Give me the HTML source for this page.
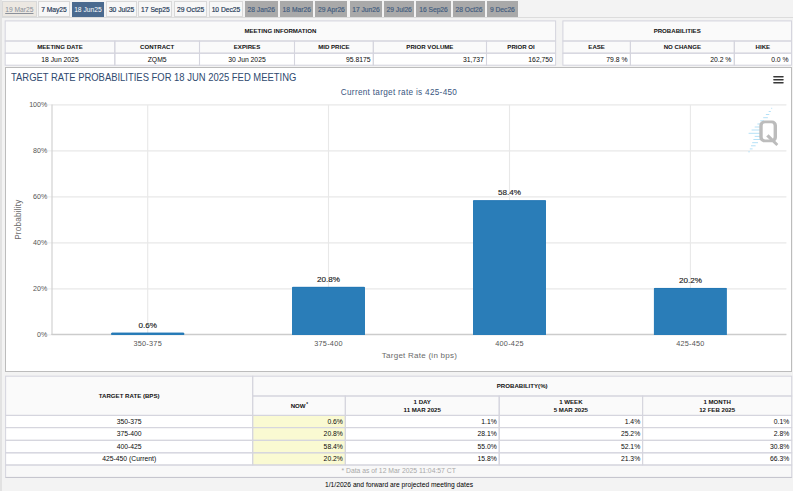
<!DOCTYPE html>
<html><head><meta charset="utf-8"><title>FedWatch</title>
<style>
html,body{margin:0;padding:0;}
body{width:793px;height:491px;overflow:hidden;background:#e2e2e2;font-family:"Liberation Sans",sans-serif;position:relative;}
.a{position:absolute;}
.tab{position:absolute;top:1.3px;height:15.6px;box-sizing:border-box;font-size:6.7px;line-height:15.1px;text-align:center;white-space:nowrap;border:0.8px solid #d9d9d9;}
.tab.first{background:#ece8e2;color:#8a8f99;text-decoration:underline;}
.tab.norm{background:#f7f7f7;color:#263a57;-webkit-text-stroke:0.18px #263a57;}
.tab.sel{background:#4a6a8f;color:#fff;border-color:#4a6a8f;top:1.8px;height:15.1px;line-height:14.1px;}
.tab.gray{background:#a9a9a9;color:#3f5b7e;border-color:#a9a9a9;-webkit-text-stroke:0.15px #3f5b7e;}
.cell{position:absolute;box-sizing:border-box;white-space:nowrap;overflow:hidden;}
.hd{background:#fafafa;font-weight:bold;font-size:6.1px;text-align:center;color:#111;}
.dt{background:#fff;font-size:6.8px;color:#0c0c0c;}
.c{text-align:center;}
.r{text-align:right;}
</style></head><body>

<div class="a" style="left:1.9px;top:0;width:795px;height:491px;background:#f3f3f3"></div><div class="a" style="left:1.9px;top:16.9px;width:795px;height:0.7px;background:#dcdcdc"></div>
<div class="tab first" style="left:1.9px;width:34.9px">19 Mar25</div>
<div class="tab norm" style="left:38.3px;width:31.4px">7 May25</div>
<div class="tab sel" style="left:71.6px;width:32.6px">18 Jun25</div>
<div class="tab norm" style="left:106.4px;width:30.3px">30 Jul25</div>
<div class="tab norm" style="left:138.4px;width:34.1px">17 Sep25</div>
<div class="tab norm" style="left:174.2px;width:32.9px">29 Oct25</div>
<div class="tab norm" style="left:209.0px;width:33.9px">10 Dec25</div>
<div class="tab gray" style="left:244.7px;width:33.2px">28 Jan26</div>
<div class="tab gray" style="left:280.1px;width:33.3px">18 Mar26</div>
<div class="tab gray" style="left:315.4px;width:32.1px">29 Apr26</div>
<div class="tab gray" style="left:349.9px;width:32.1px">17 Jun26</div>
<div class="tab gray" style="left:384.2px;width:30.0px">29 Jul26</div>
<div class="tab gray" style="left:416.3px;width:34.4px">16 Sep26</div>
<div class="tab gray" style="left:452.7px;width:32.6px">28 Oct26</div>
<div class="tab gray" style="left:487.2px;width:30.4px">9 Dec26</div>
<div class="cell hd" style="left:5.2px;top:20.9px;width:550.4px;height:20.1px;line-height:20.1px;">MEETING INFORMATION</div>
<div class="cell hd" style="left:5.2px;top:41px;width:109.6px;height:12.2px;line-height:12.2px;">MEETING DATE</div>
<div class="cell dt c" style="left:5.2px;top:53.2px;width:109.6px;height:12.0px;line-height:13.2px;">18 Jun 2025</div>
<div class="cell hd" style="left:114.8px;top:41px;width:84.7px;height:12.2px;line-height:12.2px;">CONTRACT</div>
<div class="cell dt c" style="left:114.8px;top:53.2px;width:84.7px;height:12.0px;line-height:13.2px;">ZQM5</div>
<div class="cell hd" style="left:199.5px;top:41px;width:95.0px;height:12.2px;line-height:12.2px;">EXPIRES</div>
<div class="cell dt c" style="left:199.5px;top:53.2px;width:95.0px;height:12.0px;line-height:13.2px;">30 Jun 2025</div>
<div class="cell hd" style="left:294.5px;top:41px;width:78.8px;height:12.2px;line-height:12.2px;">MID PRICE</div>
<div class="cell dt r" style="left:294.5px;top:53.2px;width:78.8px;height:12.0px;line-height:13.2px;padding-right:2.7px;">95.8175</div>
<div class="cell hd" style="left:373.3px;top:41px;width:113.2px;height:12.2px;line-height:12.2px;">PRIOR VOLUME</div>
<div class="cell dt r" style="left:373.3px;top:53.2px;width:113.2px;height:12.0px;line-height:13.2px;padding-right:2.7px;">31,737</div>
<div class="cell hd" style="left:486.5px;top:41px;width:69.1px;height:12.2px;line-height:12.2px;">PRIOR OI</div>
<div class="cell dt r" style="left:486.5px;top:53.2px;width:69.1px;height:12.0px;line-height:13.2px;padding-right:2.7px;">162,750</div>
<div class="cell hd" style="left:562.9px;top:20.9px;width:228.6px;height:20.1px;line-height:20.1px;">PROBABILITIES</div>
<div class="cell hd" style="left:562.9px;top:41px;width:67.5px;height:12.2px;line-height:12.2px;">EASE</div>
<div class="cell dt r" style="left:562.9px;top:53.2px;width:67.5px;height:12.0px;line-height:13.2px;padding-right:2.9px;">79.8 %</div>
<div class="cell hd" style="left:630.4px;top:41px;width:103.9px;height:12.2px;line-height:12.2px;">NO CHANGE</div>
<div class="cell dt r" style="left:630.4px;top:53.2px;width:103.9px;height:12.0px;line-height:13.2px;padding-right:2.9px;">20.2 %</div>
<div class="cell hd" style="left:734.3px;top:41px;width:57.2px;height:12.2px;line-height:12.2px;">HIKE</div>
<div class="cell dt r" style="left:734.3px;top:53.2px;width:57.2px;height:12.0px;line-height:13.2px;padding-right:2.9px;">0.0 %</div>
<div class="a" style="left:4.9px;top:67.05px;width:787.2px;height:304.8px;border:0.9px solid #bcbcbc;background:#fff;box-sizing:border-box"></div>
<div class="a" id="title" style="left:11.3px;top:70.4px;font-size:10.6px;line-height:14px;color:#2f4a6f;white-space:nowrap;transform-origin:0 0;transform:scaleX(0.891)">TARGET RATE PROBABILITIES FOR 18 JUN 2025 FED MEETING</div>
<div class="a" id="sub" style="left:299px;width:200px;text-align:center;top:88px;font-size:8.2px;line-height:10px;color:#3a5580;white-space:nowrap;letter-spacing:0.3px">Current target rate is 425-450</div>
<div class="cell hd" style="left:5.6px;top:376.2px;width:247.1px;height:39.2px;line-height:39.2px;">TARGET RATE (BPS)</div>
<div class="cell hd" style="left:252.7px;top:376.2px;width:539.0px;height:19.8px;line-height:19.8px;">PROBABILITY(%)</div>
<div class="cell hd" style="left:252.7px;top:396px;width:92.6px;height:19.4px;line-height:19.4px;">NOW<span style="font-size:4.5px;position:relative;top:-2.2px;left:0.8px">*</span></div>
<div class="cell hd" style="left:345.3px;top:396px;width:153.9px;height:19.4px;line-height:19.4px;line-height:8.2px;padding-top:1.9px;">1 DAY<br>11 MAR 2025</div>
<div class="cell hd" style="left:499.2px;top:396px;width:143.4px;height:19.4px;line-height:19.4px;line-height:8.2px;padding-top:1.9px;">1 WEEK<br>5 MAR 2025</div>
<div class="cell hd" style="left:642.6px;top:396px;width:149.1px;height:19.4px;line-height:19.4px;line-height:8.2px;padding-top:1.9px;">1 MONTH<br>12 FEB 2025</div>
<div class="cell dt c" style="left:5.6px;top:415.4px;width:247.1px;height:12.2px;line-height:13.6px;">350-375</div>
<div class="cell dt r" style="left:252.7px;top:415.4px;width:92.6px;height:12.2px;line-height:13.6px;padding-right:2.4px;background:#fafad2;">0.6%</div>
<div class="cell dt r" style="left:345.3px;top:415.4px;width:153.9px;height:12.2px;line-height:13.6px;padding-right:2.4px;">1.1%</div>
<div class="cell dt r" style="left:499.2px;top:415.4px;width:143.4px;height:12.2px;line-height:13.6px;padding-right:2.4px;">1.4%</div>
<div class="cell dt r" style="left:642.6px;top:415.4px;width:149.1px;height:12.2px;line-height:13.6px;padding-right:2.4px;">0.1%</div>
<div class="cell dt c" style="left:5.6px;top:427.6px;width:247.1px;height:12.7px;line-height:11.9px;">375-400</div>
<div class="cell dt r" style="left:252.7px;top:427.6px;width:92.6px;height:12.7px;line-height:11.9px;padding-right:2.4px;background:#fafad2;">20.8%</div>
<div class="cell dt r" style="left:345.3px;top:427.6px;width:153.9px;height:12.7px;line-height:11.9px;padding-right:2.4px;">28.1%</div>
<div class="cell dt r" style="left:499.2px;top:427.6px;width:143.4px;height:12.7px;line-height:11.9px;padding-right:2.4px;">25.2%</div>
<div class="cell dt r" style="left:642.6px;top:427.6px;width:149.1px;height:12.7px;line-height:11.9px;padding-right:2.4px;">2.8%</div>
<div class="cell dt c" style="left:5.6px;top:440.3px;width:247.1px;height:12.5px;line-height:13.9px;">400-425</div>
<div class="cell dt r" style="left:252.7px;top:440.3px;width:92.6px;height:12.5px;line-height:13.9px;padding-right:2.4px;background:#fafad2;">58.4%</div>
<div class="cell dt r" style="left:345.3px;top:440.3px;width:153.9px;height:12.5px;line-height:13.9px;padding-right:2.4px;">55.0%</div>
<div class="cell dt r" style="left:499.2px;top:440.3px;width:143.4px;height:12.5px;line-height:13.9px;padding-right:2.4px;">52.1%</div>
<div class="cell dt r" style="left:642.6px;top:440.3px;width:149.1px;height:12.5px;line-height:13.9px;padding-right:2.4px;">30.8%</div>
<div class="cell dt c" style="left:5.6px;top:452.8px;width:247.1px;height:12.2px;line-height:11.8px;">425-450 (Current)</div>
<div class="cell dt r" style="left:252.7px;top:452.8px;width:92.6px;height:12.2px;line-height:11.8px;padding-right:2.4px;background:#fafad2;">20.2%</div>
<div class="cell dt r" style="left:345.3px;top:452.8px;width:153.9px;height:12.2px;line-height:11.8px;padding-right:2.4px;">15.8%</div>
<div class="cell dt r" style="left:499.2px;top:452.8px;width:143.4px;height:12.2px;line-height:11.8px;padding-right:2.4px;">21.3%</div>
<div class="cell dt r" style="left:642.6px;top:452.8px;width:149.1px;height:12.2px;line-height:11.8px;padding-right:2.4px;">66.3%</div>
<div class="cell dt c" style="left:5.6px;top:465px;width:786.1px;height:12.4px;line-height:11.8px;background:#f8f8f8;color:#a8a8a8;">* Data as of 12 Mar 2025 11:04:57 CT</div>
<div class="a" style="left:199px;width:400px;text-align:center;top:480px;font-size:6.7px;line-height:9px;color:#000;white-space:nowrap">1/1/2026 and forward are projected meeting dates</div>
<svg class="a" style="left:0;top:0" width="793" height="491" viewBox="0 0 793 491" font-family="Liberation Sans, sans-serif">
<line x1="47.6" x2="52" y1="104.9" y2="104.9" stroke="#ececec" stroke-width="1"/>
<line x1="52" x2="786.4" y1="104.9" y2="104.9" stroke="#e8e8e8" stroke-width="1.1"/>
<line x1="47.6" x2="52" y1="150.9" y2="150.9" stroke="#ececec" stroke-width="1"/>
<line x1="52" x2="786.4" y1="150.9" y2="150.9" stroke="#e8e8e8" stroke-width="1.1"/>
<line x1="47.6" x2="52" y1="196.9" y2="196.9" stroke="#ececec" stroke-width="1"/>
<line x1="52" x2="786.4" y1="196.9" y2="196.9" stroke="#e8e8e8" stroke-width="1.1"/>
<line x1="47.6" x2="52" y1="242.9" y2="242.9" stroke="#ececec" stroke-width="1"/>
<line x1="52" x2="786.4" y1="242.9" y2="242.9" stroke="#e8e8e8" stroke-width="1.1"/>
<line x1="47.6" x2="52" y1="288.9" y2="288.9" stroke="#ececec" stroke-width="1"/>
<line x1="52" x2="786.4" y1="288.9" y2="288.9" stroke="#e8e8e8" stroke-width="1.1"/>
<line x1="47.6" x2="52" y1="334.9" y2="334.9" stroke="#ececec" stroke-width="1"/>
<line x1="52" x2="786.4" y1="334.9" y2="334.9" stroke="#e8e8e8" stroke-width="1.1"/>
<line x1="147.7" x2="147.7" y1="104.9" y2="334.4" stroke="#e8e8e8" stroke-width="1.1"/>
<line x1="328.5" x2="328.5" y1="104.9" y2="334.4" stroke="#e8e8e8" stroke-width="1.1"/>
<line x1="509.5" x2="509.5" y1="104.9" y2="334.4" stroke="#e8e8e8" stroke-width="1.1"/>
<line x1="690.4" x2="690.4" y1="104.9" y2="334.4" stroke="#e8e8e8" stroke-width="1.1"/>
<line x1="52" x2="52" y1="104.4" y2="334.9" stroke="#d2d2d2" stroke-width="1.2"/>
<line x1="51.4" x2="786.4" y1="334.4" y2="334.4" stroke="#cccccc" stroke-width="1.1"/>
<path d="M111.2 334.9V333.6q0 -0.8 0.8 -0.8H183.4q0.8 0 0.8 0.8V334.9Z" fill="#2a7db8"/>
<path d="M111.5 333.7q0 -0.6 0.6 -0.6H183.3q0.6 0 0.6 0.6" fill="none" stroke="#1f72b2" stroke-width="0.6"/>
<path d="M292.0 334.9V287.7q0 -0.8 0.8 -0.8H364.2q0.8 0 0.8 0.8V334.9Z" fill="#2a7db8"/>
<path d="M292.3 287.8q0 -0.6 0.6 -0.6H364.1q0.6 0 0.6 0.6" fill="none" stroke="#1f72b2" stroke-width="0.6"/>
<path d="M473.0 334.9V201.1q0 -0.8 0.8 -0.8H545.2q0.8 0 0.8 0.8V334.9Z" fill="#2a7db8"/>
<path d="M473.3 201.2q0 -0.6 0.6 -0.6H545.1q0.6 0 0.6 0.6" fill="none" stroke="#1f72b2" stroke-width="0.6"/>
<path d="M653.9 334.9V288.9q0 -0.8 0.8 -0.8H726.1q0.8 0 0.8 0.8V334.9Z" fill="#2a7db8"/>
<path d="M654.2 289.0q0 -0.6 0.6 -0.6H726.0q0.6 0 0.6 0.6" fill="none" stroke="#1f72b2" stroke-width="0.6"/>
<text x="47.3" y="107.3" font-size="7.1" fill="#555" text-anchor="end">100%</text>
<text x="47.3" y="153.3" font-size="7.1" fill="#555" text-anchor="end">80%</text>
<text x="47.3" y="199.3" font-size="7.1" fill="#555" text-anchor="end">60%</text>
<text x="47.3" y="245.3" font-size="7.1" fill="#555" text-anchor="end">40%</text>
<text x="47.3" y="291.3" font-size="7.1" fill="#555" text-anchor="end">20%</text>
<text x="47.3" y="337.3" font-size="7.1" fill="#555" text-anchor="end">0%</text>
<text x="147.7" y="327.7" font-size="8.1" fill="#1c1c1c" stroke="#1c1c1c" stroke-width="0.15" text-anchor="middle">0.6%</text>
<text x="147.7" y="346" font-size="7.3" letter-spacing="0.25" fill="#555" text-anchor="middle">350-375</text>
<text x="328.5" y="281.8" font-size="8.1" fill="#1c1c1c" stroke="#1c1c1c" stroke-width="0.15" text-anchor="middle">20.8%</text>
<text x="328.5" y="346" font-size="7.3" letter-spacing="0.25" fill="#555" text-anchor="middle">375-400</text>
<text x="509.5" y="195.2" font-size="8.1" fill="#1c1c1c" stroke="#1c1c1c" stroke-width="0.15" text-anchor="middle">58.4%</text>
<text x="509.5" y="346" font-size="7.3" letter-spacing="0.25" fill="#555" text-anchor="middle">400-425</text>
<text x="690.4" y="283.0" font-size="8.1" fill="#1c1c1c" stroke="#1c1c1c" stroke-width="0.15" text-anchor="middle">20.2%</text>
<text x="690.4" y="346" font-size="7.3" letter-spacing="0.25" fill="#555" text-anchor="middle">425-450</text>
<text x="419.5" y="357.5" font-size="8" letter-spacing="0.25" fill="#6a6a6a" text-anchor="middle">Target Rate (in bps)</text>
<text transform="translate(20.6,219.6) rotate(-90)" font-size="8.2" letter-spacing="0.2" fill="#6a6a6a" text-anchor="middle">Probability</text>
<line x1="773.9" x2="783" y1="76.7" y2="76.7" stroke="#383838" stroke-width="1.5" stroke-linecap="round"/>
<line x1="773.9" x2="783" y1="79.7" y2="79.7" stroke="#383838" stroke-width="1.5" stroke-linecap="round"/>
<line x1="773.9" x2="783" y1="82.7" y2="82.7" stroke="#383838" stroke-width="1.5" stroke-linecap="round"/>
<line x1="771.2" x2="772.2" y1="108.3" y2="108.3" stroke="#addef6" stroke-width="0.9"/>
<line x1="768.7" x2="770.8" y1="111.5" y2="111.5" stroke="#addef6" stroke-width="0.9"/>
<line x1="765.9" x2="769.3" y1="114.5" y2="114.5" stroke="#addef6" stroke-width="0.9"/>
<line x1="763.2" x2="767.9" y1="117.7" y2="117.7" stroke="#addef6" stroke-width="0.9"/>
<line x1="760.2" x2="764" y1="120.8" y2="120.8" stroke="#addef6" stroke-width="0.9"/>
<line x1="757.4" x2="761" y1="124" y2="124" stroke="#addef6" stroke-width="0.9"/>
<line x1="754.7" x2="760" y1="127" y2="127" stroke="#addef6" stroke-width="0.9"/>
<line x1="751.6" x2="760" y1="130" y2="130" stroke="#addef6" stroke-width="0.9"/>
<line x1="748.6" x2="760" y1="133.3" y2="133.3" stroke="#addef6" stroke-width="0.9"/>
<line x1="754.7" x2="760" y1="136.4" y2="136.4" stroke="#addef6" stroke-width="0.9"/>
<line x1="753.4" x2="760" y1="139.5" y2="139.5" stroke="#addef6" stroke-width="0.9"/>
<line x1="752.2" x2="758" y1="142.7" y2="142.7" stroke="#addef6" stroke-width="0.9"/>
<line x1="751" x2="755.6" y1="145.8" y2="145.8" stroke="#addef6" stroke-width="0.9"/>
<line x1="749.8" x2="752.6" y1="148.9" y2="148.9" stroke="#addef6" stroke-width="0.9"/>
<line x1="748.3" x2="749.8" y1="151.8" y2="151.8" stroke="#addef6" stroke-width="0.9"/>
<path fill-rule="evenodd" fill="#bcbcbc" d="M764.3 120.5H772a5 5 0 0 1 5 5V137.2a5 5 0 0 1 -5 5H764.3a5 5 0 0 1 -5 -5V125.5a5 5 0 0 1 5 -5ZM765 123.3a2.3 2.3 0 0 0 -2.3 2.3V137.1a2.3 2.3 0 0 0 2.3 2.3H771.3a2.3 2.3 0 0 0 2.3 -2.3V125.6a2.3 2.3 0 0 0 -2.3 -2.3Z"/>
<path fill="#bcbcbc" d="M766.2 136.6L768.6 134.3L778.3 143.9L776.4 145.9Z"/>
<rect x="5.2" y="20.9" width="550.4" height="20.1" fill="none" stroke="#d5d5de" stroke-width="1.05"/>
<rect x="5.2" y="41" width="109.6" height="12.2" fill="none" stroke="#d5d5de" stroke-width="1.05"/>
<rect x="5.2" y="53.2" width="109.6" height="12.0" fill="none" stroke="#d5d5de" stroke-width="1.05"/>
<rect x="114.8" y="41" width="84.7" height="12.2" fill="none" stroke="#d5d5de" stroke-width="1.05"/>
<rect x="114.8" y="53.2" width="84.7" height="12.0" fill="none" stroke="#d5d5de" stroke-width="1.05"/>
<rect x="199.5" y="41" width="95.0" height="12.2" fill="none" stroke="#d5d5de" stroke-width="1.05"/>
<rect x="199.5" y="53.2" width="95.0" height="12.0" fill="none" stroke="#d5d5de" stroke-width="1.05"/>
<rect x="294.5" y="41" width="78.8" height="12.2" fill="none" stroke="#d5d5de" stroke-width="1.05"/>
<rect x="294.5" y="53.2" width="78.8" height="12.0" fill="none" stroke="#d5d5de" stroke-width="1.05"/>
<rect x="373.3" y="41" width="113.2" height="12.2" fill="none" stroke="#d5d5de" stroke-width="1.05"/>
<rect x="373.3" y="53.2" width="113.2" height="12.0" fill="none" stroke="#d5d5de" stroke-width="1.05"/>
<rect x="486.5" y="41" width="69.1" height="12.2" fill="none" stroke="#d5d5de" stroke-width="1.05"/>
<rect x="486.5" y="53.2" width="69.1" height="12.0" fill="none" stroke="#d5d5de" stroke-width="1.05"/>
<rect x="562.9" y="20.9" width="228.6" height="20.1" fill="none" stroke="#d5d5de" stroke-width="1.05"/>
<rect x="562.9" y="41" width="67.5" height="12.2" fill="none" stroke="#d5d5de" stroke-width="1.05"/>
<rect x="562.9" y="53.2" width="67.5" height="12.0" fill="none" stroke="#d5d5de" stroke-width="1.05"/>
<rect x="630.4" y="41" width="103.9" height="12.2" fill="none" stroke="#d5d5de" stroke-width="1.05"/>
<rect x="630.4" y="53.2" width="103.9" height="12.0" fill="none" stroke="#d5d5de" stroke-width="1.05"/>
<rect x="734.3" y="41" width="57.2" height="12.2" fill="none" stroke="#d5d5de" stroke-width="1.05"/>
<rect x="734.3" y="53.2" width="57.2" height="12.0" fill="none" stroke="#d5d5de" stroke-width="1.05"/>
<rect x="5.6" y="376.2" width="247.1" height="39.2" fill="none" stroke="#d5d5de" stroke-width="1.05"/>
<rect x="252.7" y="376.2" width="539.0" height="19.8" fill="none" stroke="#d5d5de" stroke-width="1.05"/>
<rect x="252.7" y="396" width="92.6" height="19.4" fill="none" stroke="#d5d5de" stroke-width="1.05"/>
<rect x="345.3" y="396" width="153.9" height="19.4" fill="none" stroke="#d5d5de" stroke-width="1.05"/>
<rect x="499.2" y="396" width="143.4" height="19.4" fill="none" stroke="#d5d5de" stroke-width="1.05"/>
<rect x="642.6" y="396" width="149.1" height="19.4" fill="none" stroke="#d5d5de" stroke-width="1.05"/>
<rect x="5.6" y="415.4" width="247.1" height="12.2" fill="none" stroke="#d5d5de" stroke-width="1.05"/>
<rect x="252.7" y="415.4" width="92.6" height="12.2" fill="none" stroke="#d5d5de" stroke-width="1.05"/>
<rect x="345.3" y="415.4" width="153.9" height="12.2" fill="none" stroke="#d5d5de" stroke-width="1.05"/>
<rect x="499.2" y="415.4" width="143.4" height="12.2" fill="none" stroke="#d5d5de" stroke-width="1.05"/>
<rect x="642.6" y="415.4" width="149.1" height="12.2" fill="none" stroke="#d5d5de" stroke-width="1.05"/>
<rect x="5.6" y="427.6" width="247.1" height="12.7" fill="none" stroke="#d5d5de" stroke-width="1.05"/>
<rect x="252.7" y="427.6" width="92.6" height="12.7" fill="none" stroke="#d5d5de" stroke-width="1.05"/>
<rect x="345.3" y="427.6" width="153.9" height="12.7" fill="none" stroke="#d5d5de" stroke-width="1.05"/>
<rect x="499.2" y="427.6" width="143.4" height="12.7" fill="none" stroke="#d5d5de" stroke-width="1.05"/>
<rect x="642.6" y="427.6" width="149.1" height="12.7" fill="none" stroke="#d5d5de" stroke-width="1.05"/>
<rect x="5.6" y="440.3" width="247.1" height="12.5" fill="none" stroke="#d5d5de" stroke-width="1.05"/>
<rect x="252.7" y="440.3" width="92.6" height="12.5" fill="none" stroke="#d5d5de" stroke-width="1.05"/>
<rect x="345.3" y="440.3" width="153.9" height="12.5" fill="none" stroke="#d5d5de" stroke-width="1.05"/>
<rect x="499.2" y="440.3" width="143.4" height="12.5" fill="none" stroke="#d5d5de" stroke-width="1.05"/>
<rect x="642.6" y="440.3" width="149.1" height="12.5" fill="none" stroke="#d5d5de" stroke-width="1.05"/>
<rect x="5.6" y="452.8" width="247.1" height="12.2" fill="none" stroke="#d5d5de" stroke-width="1.05"/>
<rect x="252.7" y="452.8" width="92.6" height="12.2" fill="none" stroke="#d5d5de" stroke-width="1.05"/>
<rect x="345.3" y="452.8" width="153.9" height="12.2" fill="none" stroke="#d5d5de" stroke-width="1.05"/>
<rect x="499.2" y="452.8" width="143.4" height="12.2" fill="none" stroke="#d5d5de" stroke-width="1.05"/>
<rect x="642.6" y="452.8" width="149.1" height="12.2" fill="none" stroke="#d5d5de" stroke-width="1.05"/>
<rect x="5.6" y="465" width="786.1" height="12.4" fill="none" stroke="#d5d5de" stroke-width="1.05"/>
<line x1="5.6" x2="791.7" y1="477.5" y2="477.5" stroke="#c6c6ce" stroke-width="1.1"/>
</svg>
</body></html>
